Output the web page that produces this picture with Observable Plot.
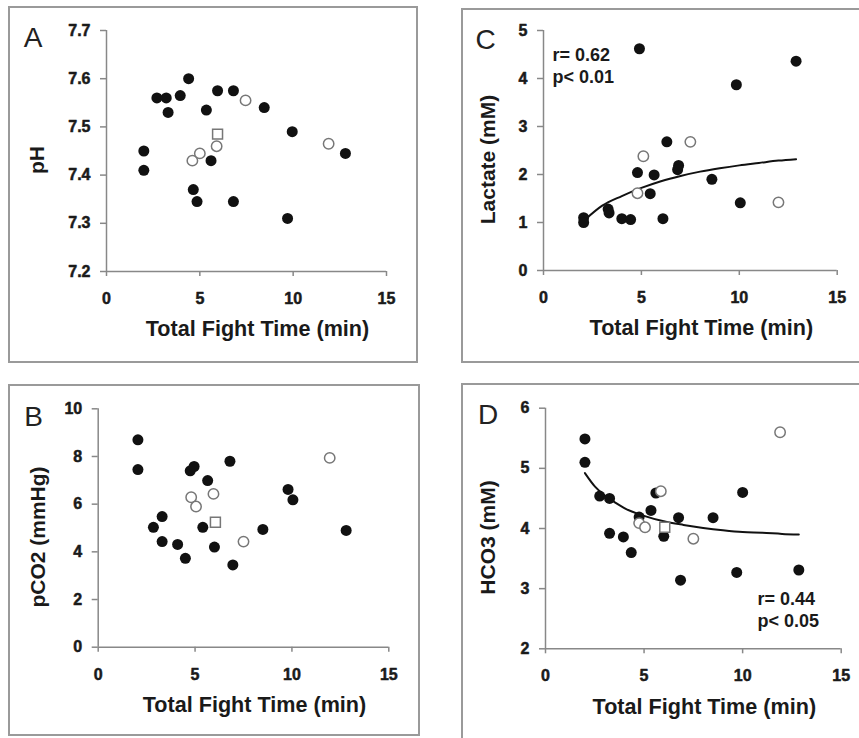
<!DOCTYPE html>
<html><head><meta charset="utf-8">
<script src="https://cdn.jsdelivr.net/npm/d3@7"></script>
<script src="https://cdn.jsdelivr.net/npm/@observablehq/plot@0.6"></script>
<style>
html,body{margin:0;padding:0;background:#fff}
body{width:859px;height:738px;overflow:hidden;position:relative;font-family:"Liberation Sans",Arial,sans-serif}
.panel{position:absolute;border:2px solid #9a9a9a;box-sizing:border-box;background:#fff;overflow:hidden}
.panel svg{display:block}
.panel g[aria-label$="tick label"]{font-weight:700;font-size:16px}
.panel g[aria-label$="tick label"] text{font-weight:700}
</style></head><body>
<div id="A" class="panel" style="left:8px;top:6px;width:410px;height:357px"></div>
<div id="C" class="panel" style="left:461px;top:8px;width:420px;height:355px"></div>
<div id="B" class="panel" style="left:8px;top:384px;width:412px;height:352px"></div>
<div id="D" class="panel" style="left:461px;top:383px;width:420px;height:380px"></div>
<script>
// ---- shared ----
const xTicks = [0, 5, 10, 15];
const xTitle = "Total Fight Time (min)";

// ---- Panel A: pH ----
const timeA_filled = [2.0, 2.0, 2.7, 3.2, 3.3, 3.95, 4.4, 4.65, 4.85, 5.35, 5.6, 5.95, 6.8, 6.8, 8.45, 9.7, 9.95, 12.8];
const pH_filled    = [7.45, 7.41, 7.56, 7.56, 7.53, 7.565, 7.60, 7.37, 7.345, 7.535, 7.43, 7.575, 7.575, 7.345, 7.54, 7.31, 7.49, 7.445];
const timeA_open   = [4.6, 5.0, 5.9, 7.45, 11.9];
const pH_open      = [7.43, 7.445, 7.46, 7.555, 7.465];
const timeA_square = [5.95];
const pH_square    = [7.485];
const pH_ticks     = [7.2, 7.3, 7.4, 7.5, 7.6, 7.7];

// ---- Panel B: pCO2 ----
const timeB_filled = [2.05, 2.05, 2.85, 3.3, 3.3, 4.1, 4.5, 4.75, 4.95, 5.4, 5.65, 6.0, 6.8, 6.95, 8.5, 9.8, 10.05, 12.8];
const pCO2_filled  = [8.7, 7.45, 5.03, 5.48, 4.43, 4.31, 3.73, 7.4, 7.58, 5.03, 6.99, 4.2, 7.8, 3.45, 4.94, 6.62, 6.18, 4.9];
const timeB_open   = [4.8, 5.05, 5.95, 7.5, 11.95];
const pCO2_open    = [6.29, 5.9, 6.43, 4.43, 7.94];
const timeB_square = [6.05];
const pCO2_square  = [5.24];
const pCO2_ticks   = [0, 2, 4, 6, 8, 10];

// ---- Panel C: Lactate ----
const timeC_filled = [2.05, 2.05, 3.3, 3.35, 4.0, 4.45, 4.8, 4.9, 5.45, 5.65, 6.1, 6.3, 6.9, 6.85, 8.6, 9.85, 10.05, 12.9];
const lac_filled   = [1.10, 1.00, 1.28, 1.20, 1.08, 1.06, 2.04, 4.62, 1.60, 1.99, 1.08, 2.68, 2.19, 2.10, 1.90, 3.87, 1.41, 4.36];
const timeC_open   = [4.8, 5.1, 7.5, 12.0];
const lac_open     = [1.61, 2.38, 2.68, 1.42];
const timeC_fit    = [2.1, 3, 4, 5, 6, 7, 8, 9, 10, 11, 12, 12.9];
const lac_fit      = [1.05, 1.35, 1.55, 1.72, 1.86, 1.97, 2.06, 2.13, 2.19, 2.24, 2.29, 2.32];
const lac_ticks    = [0, 1, 2, 3, 4, 5];

// ---- Panel D: HCO3 ----
const timeD_filled = [2.0, 2.0, 2.75, 3.25, 3.25, 3.95, 4.35, 4.75, 5.35, 5.6, 6.0, 6.75, 6.85, 8.5, 9.7, 10.0, 12.85];
const hco3_filled  = [5.49, 5.10, 4.54, 4.50, 3.92, 3.86, 3.60, 4.19, 4.30, 4.59, 3.87, 4.18, 3.14, 4.18, 3.27, 4.60, 3.31];
const timeD_open   = [4.75, 5.05, 5.85, 7.5, 11.9];
const hco3_open    = [4.09, 4.02, 4.62, 3.83, 5.60];
const timeD_square = [6.05];
const hco3_square  = [4.02];
const timeD_fit    = [2.0, 2.5, 3, 3.5, 4, 5, 6, 7, 8, 9, 10, 11, 12, 12.85];
const hco3_fit     = [4.92, 4.70, 4.55, 4.44, 4.34, 4.21, 4.12, 4.06, 4.01, 3.97, 3.94, 3.93, 3.91, 3.90];
const hco3_ticks   = [2, 3, 4, 5, 6];

const FONT = "Liberation Sans, Arial, Helvetica, sans-serif";

function panel(o) {
  const tickText = {fontSize: 16, fontWeight: 700, fill: "#1a1a1a", textStroke: "#1a1a1a", textStrokeWidth: 0.5};
  const marks = [
    Plot.ruleX([0], {stroke: "#888", strokeWidth: 1.5}),
    Plot.ruleY([o.yDomain[0]], {stroke: "#888", strokeWidth: 1.5}),
    Plot.axisX({ticks: xTicks, tickFormat: d3.format("d"), tickSize: 5, tickPadding: 16,
      stroke: "#888", strokeWidth: 1.5, label: null, ...tickText}),
    Plot.axisY({ticks: o.yTicks, tickFormat: o.yFormat, tickSize: 6, tickPadding: 10,
      stroke: "#888", strokeWidth: 1.5, label: null, ...tickText}),
    Plot.text([xTitle], {frameAnchor: "bottom", textAnchor: "middle", lineAnchor: "middle", dx: 11, dy: 58,
      fontSize: 21.6, fontWeight: "bold", fill: "#1a1a1a"}),
    Plot.text([o.yTitle], {frameAnchor: "left", textAnchor: "middle", lineAnchor: "middle", rotate: -90,
      dx: o.yTitleDx, dy: 9, fontSize: 21, fontWeight: "bold", fill: "#1a1a1a"}),
    Plot.text([o.letter], {frameAnchor: "top-left", textAnchor: "middle", lineAnchor: "middle",
      dx: o.letterDx, dy: o.letterDy, fontSize: 28, fontWeight: "normal", fill: "#222"})
  ];
  if (o.fitX) marks.push(Plot.line(o.fitX, {x: o.fitX, y: o.fitY, stroke: "#111", strokeWidth: 2, curve: "monotone-x"}));
  marks.push(Plot.dot(o.fx, {x: o.fx, y: o.fy, r: 5.5, fill: "#111", stroke: "none"}));
  marks.push(Plot.dot(o.ox, {x: o.ox, y: o.oy, r: 5.2, fill: "white", stroke: "#777", strokeWidth: 1.5}));
  if (o.sx) marks.push(Plot.dot(o.sx, {x: o.sx, y: o.sy, r: 5.6, symbol: "square", fill: "white", stroke: "#777", strokeWidth: 1.5}));
  if (o.note) marks.push(Plot.text([o.note], {frameAnchor: o.noteAnchor, textAnchor: "start", lineAnchor: "bottom",
    dx: o.noteDx, dy: o.noteDy, fontSize: 18, fontWeight: "bold", lineHeight: 1.2, fill: "#1a1a1a"}));
  const chart = Plot.plot({
    width: o.width, height: o.height,
    marginLeft: o.ml, marginRight: o.mr, marginTop: o.mt, marginBottom: o.mb,
    style: {fontFamily: FONT, background: "white", overflow: "visible"},
    x: {domain: [0, 15]},
    y: {domain: o.yDomain},
    marks
  });
  document.getElementById(o.id).appendChild(chart);
}

panel({id: "A", width: 406, height: 353, ml: 96, mr: 30, mt: 22, mb: 90,
  yDomain: [7.2, 7.7], yTicks: pH_ticks, yFormat: d3.format(".1f"), yTitle: "pH", yTitleDx: -69,
  letter: "A", letterDx: -73.5, letterDy: 8,
  fx: timeA_filled, fy: pH_filled, ox: timeA_open, oy: pH_open, sx: timeA_square, sy: pH_square});

panel({id: "C", width: 416, height: 351, ml: 80, mr: 42.3, mt: 20, mb: 91,
  yDomain: [0, 5], yTicks: lac_ticks, yFormat: d3.format("d"), yTitle: "Lactate (mM)", yTitleDx: -55.5,
  letter: "C", letterDx: -58, letterDy: 10,
  fx: timeC_filled, fy: lac_filled, ox: timeC_open, oy: lac_open,
  fitX: timeC_fit, fitY: lac_fit,
  note: "r= 0.62\np< 0.01", noteAnchor: "top-left", noteDx: 9, noteDy: 52});

panel({id: "B", width: 408, height: 348, ml: 87.7, mr: 29.7, mt: 22.3, mb: 87.3,
  yDomain: [0, 10], yTicks: pCO2_ticks, yFormat: d3.format("d"), yTitle: "pCO2 (mmHg)", yTitleDx: -60,
  letter: "B", letterDx: -64.7, letterDy: 8.7,
  fx: timeB_filled, fy: pCO2_filled, ox: timeB_open, oy: pCO2_open, sx: timeB_square, sy: pCO2_square});

panel({id: "D", width: 416, height: 376, ml: 82, mr: 38.3, mt: 22.7, mb: 112.7,
  yDomain: [2, 6], yTicks: hco3_ticks, yFormat: d3.format("d"), yTitle: "HCO3 (mM)", yTitleDx: -57.5,
  letter: "D", letterDx: -57.5, letterDy: 7.3,
  fx: timeD_filled, fy: hco3_filled, ox: timeD_open, oy: hco3_open, sx: timeD_square, sy: hco3_square,
  fitX: timeD_fit, fitY: hco3_fit,
  note: "r= 0.44\np< 0.05", noteAnchor: "bottom-left", noteDx: 212, noteDy: -22});
</script>
</body></html>
